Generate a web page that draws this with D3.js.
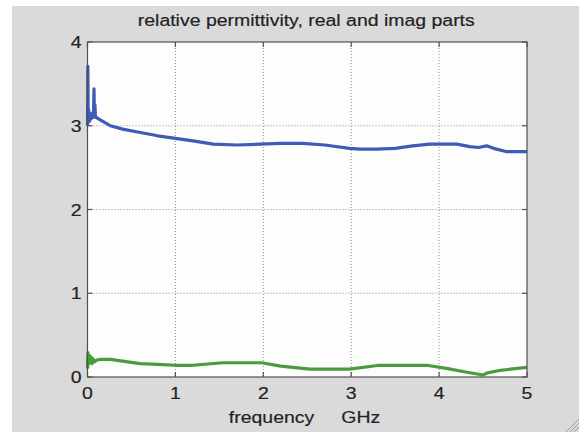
<!DOCTYPE html>
<html><head><meta charset="utf-8">
<script src="https://cdn.jsdelivr.net/npm/d3@7"></script>
<style>body{margin:0;background:#fff;}svg{display:block;}</style>
</head><body>
<svg id="c" width="579" height="435"></svg>
<script>
const titleText = "relative permittivity, real and imag parts";
const xLabelText = "frequency     GHz";
const xTicks = [0, 1, 2, 3, 4, 5];
const yTicks = [0, 1, 2, 3, 4];

const realFreq = [0, 0.004, 0.008, 0.012, 0.02, 0.03, 0.04, 0.05, 0.06, 0.07, 0.074, 0.078, 0.085, 0.09, 0.1, 0.13, 0.18, 0.26, 0.4, 0.6, 0.8, 1.0, 1.2, 1.43, 1.7, 1.96, 2.2, 2.45, 2.7, 2.98, 3.1, 3.29, 3.5, 3.7, 3.89, 4.05, 4.2, 4.35, 4.45, 4.54, 4.62, 4.77, 4.9, 5.0];
const realVals = [3.0, 3.71, 3.05, 3.2, 3.05, 3.15, 3.08, 3.12, 3.1, 3.2, 3.44, 3.12, 3.25, 3.1, 3.1, 3.08, 3.05, 3.0, 2.96, 2.92, 2.88, 2.85, 2.82, 2.78, 2.77, 2.78, 2.79, 2.79, 2.77, 2.73, 2.72, 2.72, 2.73, 2.76, 2.78, 2.78, 2.78, 2.75, 2.74, 2.76, 2.73, 2.69, 2.69, 2.69];

const imagFreq = [0, 0.005, 0.01, 0.02, 0.03, 0.04, 0.05, 0.06, 0.08, 0.1, 0.14, 0.26, 0.4, 0.6, 0.8, 1.0, 1.2, 1.54, 1.98, 2.2, 2.53, 2.98, 3.32, 3.86, 4.1, 4.3, 4.5, 4.55, 4.7, 5.0];
const imagVals = [0.1, 0.29, 0.15, 0.26, 0.17, 0.24, 0.16, 0.22, 0.18, 0.2, 0.21, 0.21, 0.19, 0.16, 0.15, 0.14, 0.14, 0.17, 0.17, 0.13, 0.095, 0.095, 0.14, 0.14, 0.1, 0.06, 0.024, 0.05, 0.08, 0.115];

const svg = d3.select("#c");
const W = 579, H = 435;
const L = 87.5, R = 527, T = 42, B = 377;

svg.append("rect").attr("x", 12).attr("y", 6).attr("width", W - 12).attr("height", 426).attr("fill", "#dadada");

// resize handle
[0, 4, 8].forEach(o => {
  svg.append("line").attr("x1", 566 + o).attr("y1", 432).attr("x2", 579).attr("y2", 419 + o)
    .attr("stroke", "#9a9a9a").attr("stroke-width", 1);
});

const x = d3.scaleLinear().domain([0, 5]).range([L, R]);
const y = d3.scaleLinear().domain([0, 4]).range([B, T]);

svg.append("rect").attr("x", L).attr("y", T).attr("width", R - L).attr("height", B - T).attr("fill", "#fdfdfd");

const grid = svg.append("g");
xTicks.slice(1, -1).forEach(t => {
  grid.append("line").attr("x1", x(t)).attr("x2", x(t)).attr("y1", T).attr("y2", B)
    .attr("stroke", "#909090").attr("stroke-width", 1).attr("stroke-dasharray", "1,2");
});
yTicks.slice(1, -1).forEach(t => {
  grid.append("line").attr("y1", y(t)).attr("y2", y(t)).attr("x1", L).attr("x2", R)
    .attr("stroke", "#909090").attr("stroke-width", 1).attr("stroke-dasharray", "1,2");
});

const line = d3.line().x(d => x(d[0])).y(d => y(d[1]));
svg.append("path").datum(d3.zip(imagFreq, imagVals)).attr("d", line)
  .attr("fill", "none").attr("stroke", "#4a9a3e").attr("stroke-width", 3.2).attr("stroke-linejoin", "round");
svg.append("path").datum(d3.zip(realFreq, realVals)).attr("d", line)
  .attr("fill", "none").attr("stroke", "#3d5bb7").attr("stroke-width", 3.2).attr("stroke-linejoin", "round");

// box axes
const ax = svg.append("g").attr("stroke", "#505050").attr("stroke-width", 1.2).attr("fill", "none");
ax.append("rect").attr("x", L).attr("y", T).attr("width", R - L).attr("height", B - T);
const tl = 5;
xTicks.forEach(t => {
  ax.append("line").attr("x1", x(t)).attr("x2", x(t)).attr("y1", B).attr("y2", B - tl);
  ax.append("line").attr("x1", x(t)).attr("x2", x(t)).attr("y1", T).attr("y2", T + tl);
});
yTicks.forEach(t => {
  ax.append("line").attr("y1", y(t)).attr("y2", y(t)).attr("x1", L).attr("x2", L + tl);
  ax.append("line").attr("y1", y(t)).attr("y2", y(t)).attr("x1", R).attr("x2", R - tl);
});

const font = "Liberation Sans, Arial, sans-serif";
const txt = svg.append("g").attr("fill", "#222").attr("stroke", "#222")
  .attr("stroke-width", 0.18).attr("font-family", font);
const sx = 1.18;
function label(px, py, anchor, size, s) {
  return txt.append("text")
    .attr("transform", `translate(${px},${py}) scale(${sx},1)`)
    .attr("text-anchor", anchor).attr("font-size", size).text(s);
}
xTicks.forEach(t => label(x(t), B + 22, "middle", 16.5, t));
yTicks.forEach(t => label(L - 6, y(t) + 6, "end", 16.5, t));
label((L + R) / 2 - 1, 26, "middle", 16.5, titleText);
label(304.5, 423, "middle", 16.5, xLabelText).style("white-space", "pre");
</script>
</body></html>
